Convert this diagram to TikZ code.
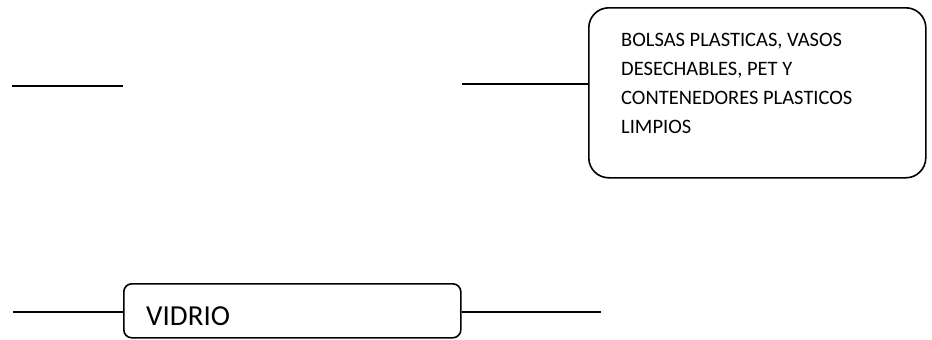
\documentclass[tikz,border=0pt]{standalone}
\usepackage{fontspec}
\setmainfont{Carlito}
\begin{document}
\begin{tikzpicture}[x=1bp,y=-1bp,
  conn/.style={line width=1.6bp,black},
  boxst/.style={draw,line width=1.6bp,inner sep=0pt}]
\useasboundingbox (0,0) rectangle (932,339);
% top right box
\node[boxst,rounded corners=20bp,minimum width=337bp,minimum height=170bp,anchor=north west] (plast) at (588,7) {};
\node[anchor=base west,inner sep=0pt,align=left,font=\fontsize{20.5bp}{29bp}\selectfont] (plasttxt) at (621,133)
  {BOLSAS PLASTICAS, VASOS\\DESECHABLES, PET Y\\CONTENEDORES PLASTICOS\\LIMPIOS};
% bottom box
\node[boxst,rounded corners=8bp,minimum width=337bp,minimum height=54bp,anchor=north west] (vid) at (123,283) {};
\node[anchor=base west,inner sep=0pt,font=\fontsize{29bp}{34bp}\selectfont] (vidtxt) at (146,325) {VIDRIO};
% coordinates
\coordinate (tl1) at (12,86);
\coordinate (tl2) at (123,86);
\coordinate (tm) at (462,84);
\coordinate (bl) at (13,312);
\coordinate (br) at (601,312);
% connectors
\draw[conn] (tl1) -- (tl2);
\draw[conn] (tm) -- (tm -| plast.west);
\draw[conn] (bl) -- (bl -| vid.west);
\draw[conn] (br -| vid.east) -- (br);
\end{tikzpicture}
\end{document}
